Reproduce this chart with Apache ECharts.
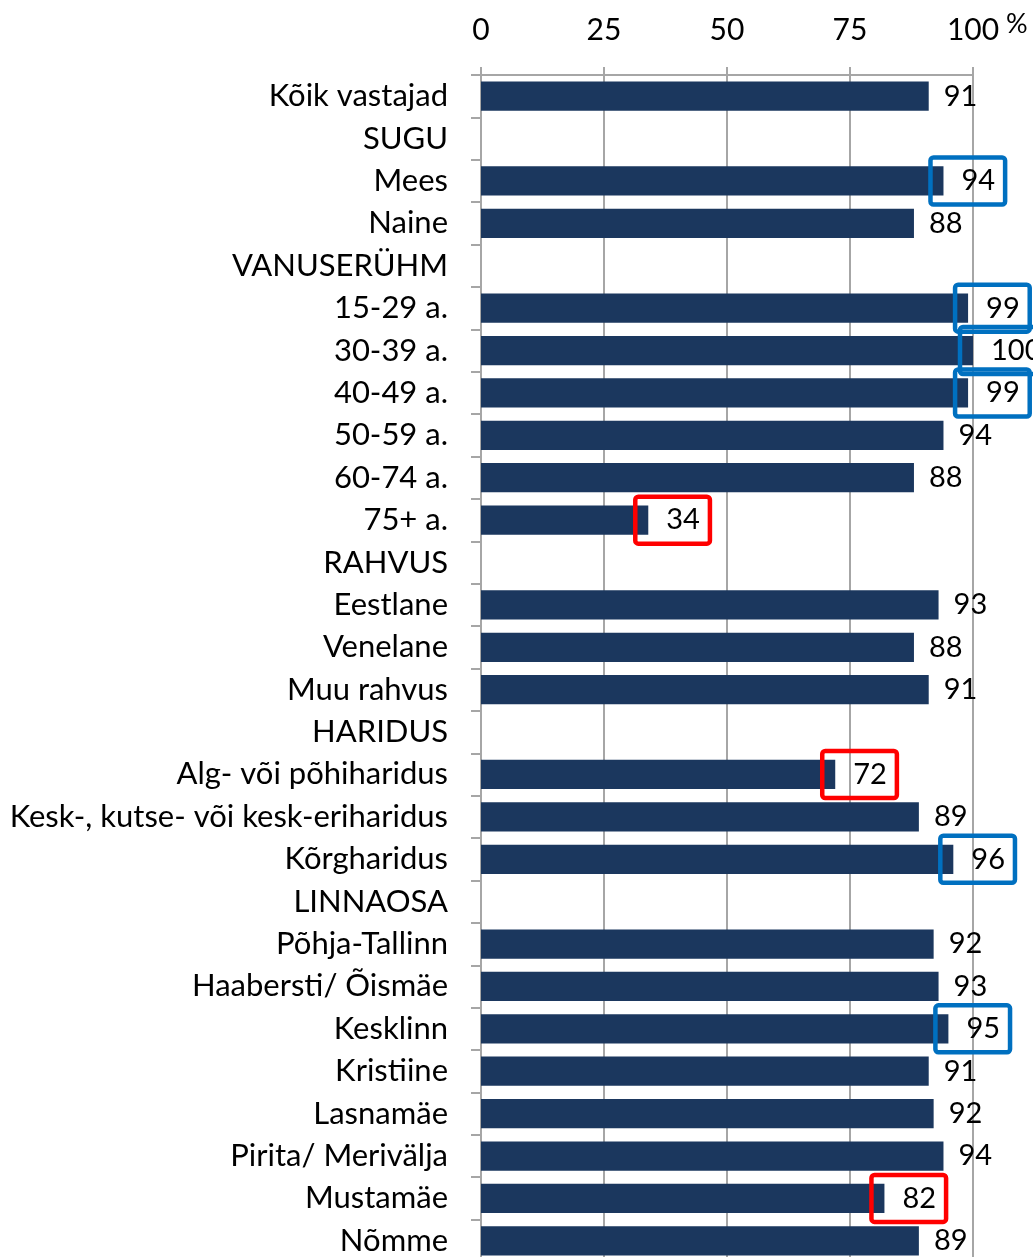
<!DOCTYPE html>
<html>
<head>
<meta charset="utf-8">
<script src="https://cdn.jsdelivr.net/npm/echarts@6/dist/echarts.min.js"></script>
<style>
html,body{margin:0;padding:0;overflow:hidden;background:#fff;}
#chart{width:1033px;height:1300px;}
</style>
</head>
<body>
<div id="chart"></div>
<script>
const categories = [
  'Kõik vastajad','SUGU','Mees','Naine','VANUSERÜHM','15-29 a.','30-39 a.','40-49 a.',
  '50-59 a.','60-74 a.','75+ a.','RAHVUS','Eestlane','Venelane','Muu rahvus','HARIDUS',
  'Alg- või põhiharidus','Kesk-, kutse- või kesk-eriharidus','Kõrgharidus','LINNAOSA',
  'Põhja-Tallinn','Haabersti/ Õismäe','Kesklinn','Kristiine','Lasnamäe','Pirita/ Merivälja',
  'Mustamäe','Nõmme'
];
const values = [91,null,94,88,null,99,100,99,94,88,34,null,93,88,91,null,72,89,96,null,92,93,95,91,92,94,82,89];
const highGroups = ['Mees','15-29 a.','30-39 a.','40-49 a.','Kõrgharidus','Kesklinn'];
const lowGroups = ['75+ a.','Alg- või põhiharidus','Mustamäe'];
const xTicks = [0,25,50,75,100];
const unitLabel = '%';

const FONT = 'Lato';
const boxLabel = (color) => ({
  distance: -13,
  borderColor: color,
  borderWidth: 4.5,
  borderRadius: 3,
  padding: [8, 10, 8, 31],
  lineHeight: 31
});

const seriesData = categories.map((c, i) => {
  const v = values[i];
  if (v === null) return '-';
  if (highGroups.includes(c)) return { value: v, label: boxLabel('#0070C0') };
  if (lowGroups.includes(c)) return { value: v, label: boxLabel('#FF0000') };
  return v;
});

const chart = echarts.init(document.getElementById('chart'));
chart.setOption({
  animation: false,
  grid: { left: 481, right: 60, top: 75, bottom: 38, containLabel: false },
  xAxis: {
    type: 'value',
    position: 'top',
    min: xTicks[0],
    max: xTicks[xTicks.length - 1],
    interval: 25,
    axisLine: { show: true, lineStyle: { color: '#A6A6A6', width: 2 } },
    axisTick: { show: true, length: 8, lineStyle: { color: '#A6A6A6', width: 2 } },
    splitLine: { show: true, lineStyle: { color: '#A6A6A6', width: 2 } },
    axisLabel: { fontFamily: FONT, fontSize: 30, color: '#000', margin: 30 }
  },
  yAxis: {
    type: 'category',
    inverse: true,
    data: categories,
    axisLine: { show: true, lineStyle: { color: '#A6A6A6', width: 2 } },
    axisTick: { show: true, length: 10, alignWithLabel: false, lineStyle: { color: '#A6A6A6', width: 2 } },
    axisLabel: { fontFamily: FONT, fontSize: 31, color: '#000', margin: 33, interval: 0 }
  },
  graphic: [{
    type: 'text', left: 1006, top: 11,
    style: { text: unitLabel, fontFamily: FONT, fontSize: 27, fill: '#000' }
  }],
  series: [{
    type: 'bar',
    data: seriesData,
    barCategoryGap: '31%',
    itemStyle: { color: '#1B375E' },
    label: {
      show: true, position: 'right', distance: 15,
      fontFamily: FONT, fontSize: 29, color: '#000'
    }
  }]
});
</script>
</body>
</html>
